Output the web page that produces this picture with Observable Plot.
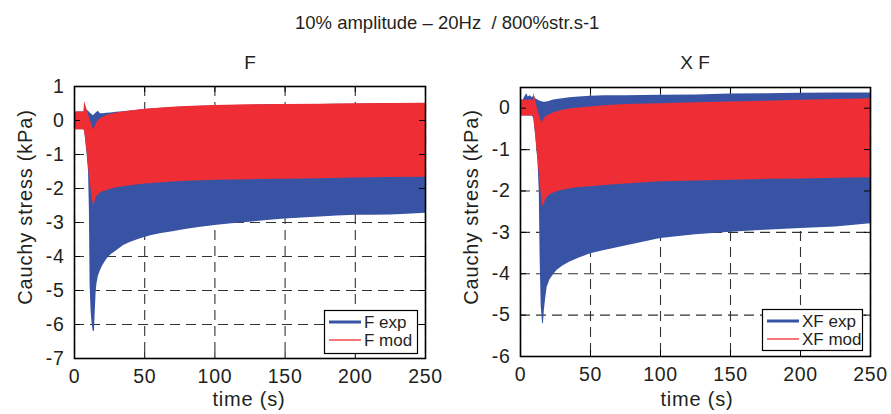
<!DOCTYPE html>
<html><head><meta charset="utf-8">
<script src="https://cdn.jsdelivr.net/npm/d3@7"></script>
<script src="https://cdn.jsdelivr.net/npm/@observablehq/plot@0.6"></script>
<style>
body{margin:0;background:#fff;}
#wrap{position:relative;width:891px;height:414px;overflow:hidden;font-family:"Liberation Sans",Arial,Helvetica,sans-serif;color:#231f20;}
#wrap svg{position:absolute;}
</style></head><body><div id="wrap"></div>
<script>
// ---------- tick labels ----------
const xTicks = [0, 50, 100, 150, 200, 250];
const yTicksF = [-7, -6, -5, -4, -3, -2, -1, 0, 1];
const yTicksXF = [-6, -5, -4, -3, -2, -1, 0];

// ---------- titles / labels ----------
const mainTitle = "10% amplitude \u2013 20Hz\u00a0 / 800%str.s-1";
const panelTitles = ["F", "X F"];
const xLabel = "time (s)";
const yLabel = "Cauchy stress (kPa)";
const legendF = ["F exp", "F mod"];
const legendXF = ["XF exp", "XF mod"];

// ---------- F panel: envelope of the oscillating signal (upper / lower) ----------
const fExpT  = [0, 6.8, 7.3, 8, 9, 10, 10.6, 11.1, 11.8, 12.6, 13.3, 14.2, 14.8, 15.4, 16, 17, 18.5, 20, 23, 26, 30, 35, 40, 47, 55, 62, 70, 80, 90, 100, 112, 125, 137, 150, 162, 175, 187, 200, 212, 225, 237, 250];
const fExpHi = [0.25, 0.25, 0.45, 0.38, 0.3, 0.27, 0.25, 0.22, 0.2, 0.17, 0.15, 0.16, 0.2, 0.22, 0.24, 0.27, 0.2, 0.2, 0.21, 0.22, 0.24, 0.26, 0.28, 0.31, 0.34, 0.36, 0.38, 0.40, 0.42, 0.43, 0.44, 0.45, 0.46, 0.46, 0.47, 0.47, 0.48, 0.48, 0.49, 0.49, 0.5, 0.5];
const fExpLo = [-0.27, -0.27, -0.35, -0.6, -1.0, -1.5, -2.6, -4.8, -5.6, -6.0, -6.2, -6.2, -5.6, -5.05, -4.8, -4.58, -4.41, -4.28, -4.08, -3.95, -3.83, -3.68, -3.58, -3.48, -3.38, -3.32, -3.27, -3.2, -3.14, -3.09, -3.04, -2.99, -2.94, -2.9, -2.87, -2.84, -2.81, -2.79, -2.79, -2.78, -2.76, -2.73];

const fModT  = [0, 6.8, 7.1, 8, 9, 10, 11, 12, 13, 13.8, 14.5, 15.5, 16.5, 18.5, 20, 23, 26, 30, 35, 40, 50, 60, 70, 80, 100, 125, 150, 175, 200, 225, 250];
const fModHi = [0.25, 0.25, 0.56, 0.45, 0.3, 0.17, 0.04, -0.08, -0.2, -0.3, -0.2, -0.1, -0.02, 0.05, 0.09, 0.15, 0.18, 0.22, 0.25, 0.28, 0.33, 0.36, 0.39, 0.41, 0.44, 0.46, 0.47, 0.48, 0.49, 0.5, 0.51];
const fModLo = [-0.27, -0.27, -0.3, -0.55, -0.93, -1.35, -1.75, -2.1, -2.38, -2.55, -2.4, -2.28, -2.2, -2.14, -2.1, -2.06, -2.02, -1.98, -1.95, -1.92, -1.87, -1.84, -1.81, -1.79, -1.76, -1.74, -1.73, -1.71, -1.69, -1.68, -1.67];

// ---------- XF panel ----------
const xfExpT  = [0, 2, 3.5, 4.5, 5.5, 7, 8.5, 9.5, 11, 12.5, 13.4, 14.0, 14.8, 15.8, 16.4, 17, 18, 19, 21, 23, 26, 30, 35, 42, 50, 60, 75, 100, 125, 150, 175, 200, 225, 250];
const xfExpHi = [0.19, 0.2, 0.3, 0.35, 0.27, 0.3, 0.25, 0.3, 0.22, 0.2, 0.18, 0.17, 0.16, 0.15, 0.15, 0.14, 0.15, 0.15, 0.17, 0.19, 0.21, 0.23, 0.25, 0.27, 0.29, 0.3, 0.3, 0.31, 0.32, 0.34, 0.35, 0.36, 0.37, 0.37];
const xfExpLo = [-0.19, -0.19, -0.19, -0.19, -0.19, -0.19, -0.19, -0.25, -0.7, -1.3, -2.0, -3.6, -4.8, -5.21, -5.2, -4.9, -4.6, -4.33, -4.15, -4.05, -3.92, -3.82, -3.72, -3.62, -3.52, -3.44, -3.33, -3.15, -3.06, -3.0, -2.95, -2.91, -2.87, -2.79];

const xfModT  = [0, 9.2, 9.6, 10.5, 11.5, 12.5, 13.5, 14.5, 15.5, 16.3, 17, 18, 19, 21, 23, 26, 30, 35, 40, 50, 60, 75, 100, 125, 150, 175, 200, 225, 250];
const xfModHi = [0.19, 0.19, 0.37, 0.22, 0.08, -0.05, -0.17, -0.28, -0.37, -0.3, -0.25, -0.21, -0.19, -0.15, -0.12, -0.09, -0.05, -0.02, 0.0, 0.03, 0.06, 0.09, 0.11, 0.13, 0.15, 0.17, 0.19, 0.21, 0.23];
const xfModLo = [-0.19, -0.19, -0.25, -0.55, -0.9, -1.25, -1.6, -1.95, -2.3, -2.39, -2.3, -2.22, -2.16, -2.1, -2.06, -2.02, -1.98, -1.95, -1.92, -1.9, -1.87, -1.83, -1.78, -1.76, -1.74, -1.72, -1.71, -1.69, -1.68];

const BLUE = "#3953a4";
const RED = "#ee2e34";
const FONT = "'Liberation Sans', Arial, Helvetica, sans-serif";

const rows = (T, H, L) => T.map((t, i) => ({t, hi: H[i], lo: L[i]}));

function panel({exp, mod, yDomain, yTicks, marginTop, marginBottom, marginRight}) {
  const W = 445, H = 344, ml = 74;
  const fh = H - marginTop - marginBottom, fw = W - ml - marginRight;
  return Plot.plot({
    width: W, height: H,
    marginLeft: ml, marginRight, marginTop, marginBottom,
    style: {fontFamily: FONT, fontSize: "19.5px", letterSpacing: "0.7px", color: "#231f20", background: "transparent", overflow: "visible"},
    x: {domain: [0, 250]},
    y: {domain: yDomain},
    marks: [
      Plot.gridX(xTicks, {stroke: "#333", strokeOpacity: 1, strokeWidth: 1.1, strokeDasharray: "10,6"}),
      Plot.gridY(yTicks, {stroke: "#333", strokeOpacity: 1, strokeWidth: 1.1, strokeDasharray: "10,6"}),
      Plot.areaY(exp, {x: "t", y1: "lo", y2: "hi", fill: BLUE, clip: true}),
      Plot.areaY(mod, {x: "t", y1: "lo", y2: "hi", fill: RED, clip: true}),
      Plot.tickX(xTicks, {x: d => d, insetTop: fh - 6, stroke: "#000"}),
      Plot.tickX(xTicks, {x: d => d, insetBottom: fh - 6, stroke: "#000"}),
      Plot.tickY(yTicks, {y: d => d, insetLeft: fw - 6, stroke: "#000"}),
      Plot.tickY(yTicks, {y: d => d, insetRight: fw - 6, stroke: "#000"}),
      Plot.axisX(xTicks, {tickSize: 0, tickPadding: 11, tickFormat: d => String(d), label: null}),
      Plot.axisY(yTicks, {tickSize: 0, tickPadding: 10, tickFormat: d => String(d), label: null}),
      Plot.frame({stroke: "#000", strokeWidth: 1.6})
    ]
  });
}

const wrap = document.getElementById("wrap");

const left = panel({
  exp: rows(fExpT, fExpHi, fExpLo), mod: rows(fModT, fModHi, fModLo),
  yDomain: [-7, 1], yTicks: yTicksF, marginTop: 16, marginBottom: 56, marginRight: 20
});
left.style.left = "0px"; left.style.top = "70px";
wrap.appendChild(left);

const right = panel({
  exp: rows(xfExpT, xfExpHi, xfExpLo), mod: rows(xfModT, xfModHi, xfModLo),
  yDomain: [-6, 0.5], yTicks: yTicksXF, marginTop: 17, marginBottom: 58, marginRight: 21
});
right.style.left = "446px"; right.style.top = "70px";
wrap.appendChild(right);

// ---------- overlay: titles, axis labels, legends ----------
const ov = d3.select(wrap).append("svg")
  .attr("width", 891).attr("height", 414)
  .style("left", "0px").style("top", "0px")
  .attr("font-family", FONT).attr("fill", "#231f20");

ov.append("text").attr("x", 295).attr("y", 29).attr("font-size", 18.5)
  .style("white-space", "pre").text(mainTitle);
ov.append("text").attr("x", 250).attr("y", 69).attr("text-anchor", "middle").attr("font-size", 19).text(panelTitles[0]);
ov.append("text").attr("x", 695).attr("y", 69).attr("text-anchor", "middle").attr("font-size", 19).text(panelTitles[1]);

[[249, 32], [697, 478]].forEach(([xc, yb]) => {
  ov.append("text").attr("x", xc).attr("y", 406).attr("text-anchor", "middle")
    .attr("font-size", 20).attr("letter-spacing", "0.8px").text(xLabel);
  ov.append("text").attr("transform", `translate(${yb},207) rotate(-90)`).attr("text-anchor", "middle")
    .attr("font-size", 20).attr("letter-spacing", "0.8px").text(yLabel);
});

function legend(x, y, w, h, labels) {
  const g = ov.append("g");
  g.append("rect").attr("x", x + 0.5).attr("y", y + 0.5).attr("width", w).attr("height", h)
    .attr("fill", "#fff").attr("stroke", "#000").attr("stroke-width", 1.2);
  g.append("line").attr("x1", x + 5).attr("x2", x + 37).attr("y1", y + 12).attr("y2", y + 12)
    .attr("stroke", BLUE).attr("stroke-width", 3);
  g.append("line").attr("x1", x + 5).attr("x2", x + 37).attr("y1", y + 30).attr("y2", y + 30)
    .attr("stroke", RED).attr("stroke-width", 1.3);
  g.append("text").attr("x", x + 40).attr("y", y + 18).attr("font-size", 17).text(labels[0]);
  g.append("text").attr("x", x + 40).attr("y", y + 36).attr("font-size", 17).text(labels[1]);
}
legend(324, 310, 93, 43, legendF);
legend(762, 309, 100, 41, legendXF);
</script>
</body></html>
